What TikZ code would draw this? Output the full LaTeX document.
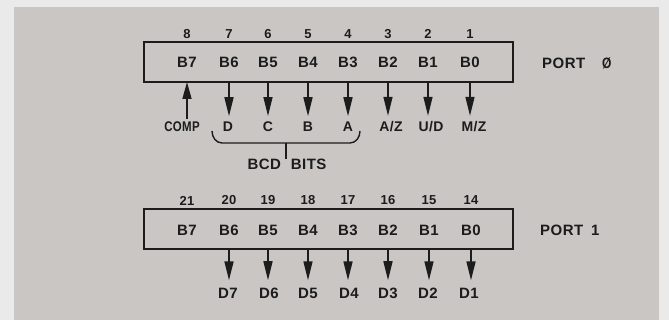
\documentclass[tikz,border=0pt]{standalone}
\usepackage{fontspec}
\setmainfont{Liberation Sans}[LetterSpace=3]
\usetikzlibrary{arrows.meta}
\definecolor{panel}{RGB}{201,198,196}
\definecolor{outerbg}{RGB}{234,234,235}
\definecolor{ink}{RGB}{28,28,28}
\begin{document}
\begin{tikzpicture}[x=1pt,y=1pt,
  pinnum/.style={font=\bfseries\fontsize{13}{13}\selectfont, text=ink, inner sep=0pt},
  reglbl/.style={font=\bfseries\fontsize{15}{15}\selectfont, text=ink, inner sep=0pt},
  siglbl/.style={font=\bfseries\fontsize{14}{14}\selectfont, text=ink, inner sep=0pt, outer sep=6pt},
  portbox/.style={draw=ink, line width=1.8pt, minimum width=369pt, minimum height=40pt, inner sep=0pt},
  arr/.style={draw=ink, line width=1.6pt, -{Triangle[length=19pt,width=9pt]}},
  uparr/.style={draw=ink, line width=1.6pt, -{Triangle[length=17pt,width=9pt]}},
]
\useasboundingbox (0,0) rectangle (669,-320);
\fill[outerbg] (0,0) rectangle (669,-320);
\fill[panel] (14,-7) rectangle (659,-320);

% ---------- PORT 0 ----------
\node[portbox] (box0) at (328.5,-62) {};
\node[reglbl, anchor=west] (port0) at (542,-63) {PORT\hspace{17pt}\scalebox{0.8}[1]{Ø}};

\foreach \x/\n/\b [count=\i] in {187/8/B7, 229/7/B6, 268/6/B5, 308/5/B4, 348/4/B3, 388/3/B2, 428/2/B1, 470/1/B0}{
  \node[pinnum] (n0\i) at (\x,-34) {\n};
  \node[reglbl] (b0\i) at (\x,-62.5) {\b};
  \coordinate (c0\i) at (\x,-82);
}

\node[siglbl] (lcomp) at (182,-127) {\scalebox{0.82}[1]{COMP}};
\node[siglbl] (lD) at (228,-127) {D};
\node[siglbl] (lC) at (268,-127) {C};
\node[siglbl] (lB) at (308,-127) {B};
\node[siglbl] (lA) at (348,-127) {A};
\node[siglbl] (lAZ) at (391,-127) {A/Z};
\node[siglbl] (lUD) at (431,-127) {U/D};
\node[siglbl] (lMZ) at (474,-127) {M/Z};

\draw[uparr] (c01 |- lcomp.north) ++(0,-3) -- (c01);
\draw[arr] (c02) -- (c02 |- lD.north);
\draw[arr] (c03) -- (c03 |- lC.north);
\draw[arr] (c04) -- (c04 |- lB.north);
\draw[arr] (c05) -- (c05 |- lA.north);
\draw[arr] (c06) -- (c06 |- lAZ.north);
\draw[arr] (c07) -- (c07 |- lUD.north);
\draw[arr] (c08) -- (c08 |- lMZ.north);

% brace for BCD bits
\coordinate (brL) at (212,-131);
\coordinate (brR) at (360,-131);
\coordinate (brM) at (286,-143);
\draw[ink, line width=1.4pt] (brL) to[out=-90,in=180] (222,-143) -- (350,-143) to[out=0,in=-90] (brR);
\node[reglbl] (bcd) at (287,-164.5) {\spaceskip=10pt BCD BITS};
\draw[ink, line width=1.4pt] (brM) -- (brM |- bcd.north) ++(0,3);

% ---------- PORT 1 ----------
\node[portbox] (box1) at (328.5,-229) {};
\node[reglbl, anchor=west] (port1) at (540,-230) {PORT\hspace{8pt}1};

\foreach \x/\n/\b [count=\i] in {187/21/B7, 229/20/B6, 268/19/B5, 308/18/B4, 348/17/B3, 388/16/B2, 429/15/B1, 471/14/B0}{
  \node[pinnum] (n1\i) at (\x,-200.5) {\n};
  \node[reglbl] (b1\i) at (\x,-230) {\b};
  \coordinate (c1\i) at (\x,-249);
}

\foreach \x/\d [count=\i from 2] in {228/D7, 269/D6, 308/D5, 349/D4, 388/D3, 428/D2, 469/D1}{
  \node[reglbl, outer sep=8pt] (d\i) at (\x,-293.5) {\d};
}
\foreach \i in {2,...,8}{
  \draw[arr] (c1\i) -- (c1\i |- d\i.north);
}
\end{tikzpicture}
\end{document}
